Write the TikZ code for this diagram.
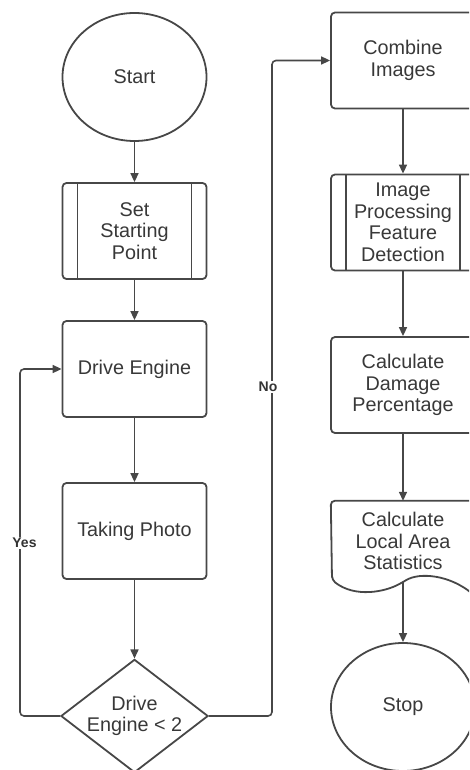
\documentclass[tikz,border=0pt]{standalone}
\usepackage{fontspec}
\setmainfont{Liberation Sans}
\usepackage{tikz}
\usetikzlibrary{arrows.meta, shapes.geometric, calc}
\definecolor{ink}{HTML}{474747}
\definecolor{txt}{HTML}{383838}

\begin{document}
\begin{tikzpicture}[x=1pt, y=-1pt, font=\fontsize{19.8}{21.5}\selectfont, text=txt,
	box/.style={draw=ink, line width=1.8pt, rounded corners=4pt, minimum width=144pt, minimum height=96pt, align=center},
	subproc/.style={box, path picture={
		\draw[ink, line width=1.8pt] ([xshift=15pt]path picture bounding box.north west) -- ([xshift=15pt]path picture bounding box.south west)
			([xshift=-15pt]path picture bounding box.north east) -- ([xshift=-15pt]path picture bounding box.south east);}},
	term/.style={draw=ink, line width=1.8pt, ellipse, minimum width=144pt, minimum height=128pt},
	decide/.style={draw=ink, line width=1.8pt, diamond, aspect=1.3, minimum width=142pt, minimum height=108pt, inner sep=0pt, align=center},
	flow/.style={draw=ink, line width=1.6pt, -{Triangle[length=9pt, width=8pt]}},
	lbl/.style={fill=white, text=black!80, font=\bfseries\fontsize{14}{16}\selectfont, inner sep=1.5pt}]
	\clip (0,0) rectangle (469,770);
	\node[term] (start) at (134.5,77) {Start};
	\node[subproc] (setpt) at (134.5,231) {Set\\Starting\\Point};
	\node[box] (drive) at (134.5,369) {Drive Engine};
	\node[box] (photo) at (134.5,531) {Taking Photo};
	\node[decide] (check) at (134.5,716) {Drive\\Engine < 2};
	\node[box] (combine) at (403,60.5) {Combine\\Images};
	\node[subproc] (improc) at (403,222.5) {Image\\Processing\\Feature\\Detection};
	\node[box] (damage) at (403,385) {Calculate\\Damage\\Percentage};
	\node[minimum width=144pt, minimum height=80pt, align=center] (loc) at (403,541) {Calculate\\Local Area\\Statistics};
	\draw[ink, line width=1.8pt, rounded corners=4pt] (332,580) -- (loc.north west) -- (loc.north east) -- (475,596)
		.. controls (450,575) and (420,572) .. (403,582) .. controls (385,592) and (355,598) .. (332,580) -- cycle;
	\coordinate (locb) at (403,582);
	\node[term] (stop) at (403,707) {Stop};
	\draw[flow] (start) -- (setpt);
	\draw[flow] (setpt) -- (drive);
	\draw[flow] (drive) -- (photo);
	\draw[flow] (photo) -- (check);
	\draw[flow, rounded corners=4pt] (check.west) -- ++(-40,0) |- (drive.west);
	\draw[flow, rounded corners=4pt] (check.east) -- ++(63,0) |- (combine.west);
	\draw[flow] (combine) -- (improc);
	\draw[flow] (improc) -- (damage);
	\draw[flow] (damage) -- (loc.north);
	\draw[flow] (locb) -- (stop);
	\node[lbl] (yes) at (24.5,543) {Yes};
	\node[lbl] (no) at (268,387) {No};
\end{tikzpicture}
\end{document}
